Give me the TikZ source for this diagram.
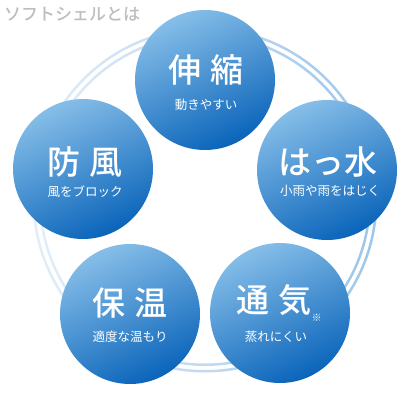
\documentclass[tikz,border=0pt]{standalone}
\usepackage{fontspec}
\newfontfamily\jpfont{Noto Sans CJK JP}
\newfontfamily\jpmedium{Noto Sans CJK JP Medium}
\usepackage{xcolor}
\usepackage{tikz}
\usetikzlibrary{shadings}
\definecolor{ballhi}{HTML}{86BEE8}
\definecolor{balllo}{HTML}{0A64BA}
\definecolor{ringdk}{HTML}{9EC6EA}
\definecolor{ringlt}{HTML}{E2EEF9}
\definecolor{titlegray}{HTML}{BDBDBD}
\tikzstyle{ball}=[circle, inner sep=0pt, minimum size=140pt,% light at the upper left, dark below
top color=ballhi, bottom color=balllo, shading angle=25]
\tikzstyle{bigtxt}=[text=white, font=\jpmedium\fontsize{33}{33}\selectfont, inner sep=0pt]
\tikzstyle{subtxt}=[text=white, font=\jpfont\fontsize{12.5}{13}\selectfont, inner sep=0pt]
\tikzstyle{ringline}=[left color=ringlt, right color=ringdk, even odd rule]

\begin{document}
\begin{tikzpicture}[x=1pt, y=-1pt]
\useasboundingbox (0,0) rectangle (410,411);
\coordinate (ring) at (205,200);
\shade[ringline] (ring) circle[radius=172.5pt] circle[radius=170pt];
\shade[ringline] (ring) circle[radius=166pt] circle[radius=163.5pt];
\node[anchor=west, text=titlegray, font=\jpmedium\fontsize{17}{17}\selectfont, inner sep=0pt] (title) at (4,14) {ソフトシェルとは};
\node[ball] (c1) at (205,80) {};
\node[ball] (c2) at (327,170) {};
\node[ball] (c3) at (280,313) {};
\node[ball] (c4) at (130,314) {};
\node[ball] (c5) at (83,169) {};
\node[bigtxt] (b1) at (206,70) {伸\hspace{0.28em}縮};
\node[subtxt] (s1) at (206,105) {動きやすい};
\node[bigtxt] (b2) at (328,162) {はっ水};
\node[subtxt] (s2) at (330,191) {小雨や雨をはじく};
\node[bigtxt] (b3) at (274,303) {通\hspace{0.28em}気\rlap{\raisebox{-0.25em}{\fontsize{10}{10}\selectfont ※}}};
\node[subtxt] (s3) at (276,337) {蒸れにくい};
\node[bigtxt] (b4) at (130,303) {保\hspace{0.28em}温};
\node[subtxt] (s4) at (130,337) {適度な温もり};
\node[bigtxt] (b5) at (85,162) {防\hspace{0.28em}風};
\node[subtxt] (s5) at (85,192) {風をブロック};
\end{tikzpicture}
\end{document}
